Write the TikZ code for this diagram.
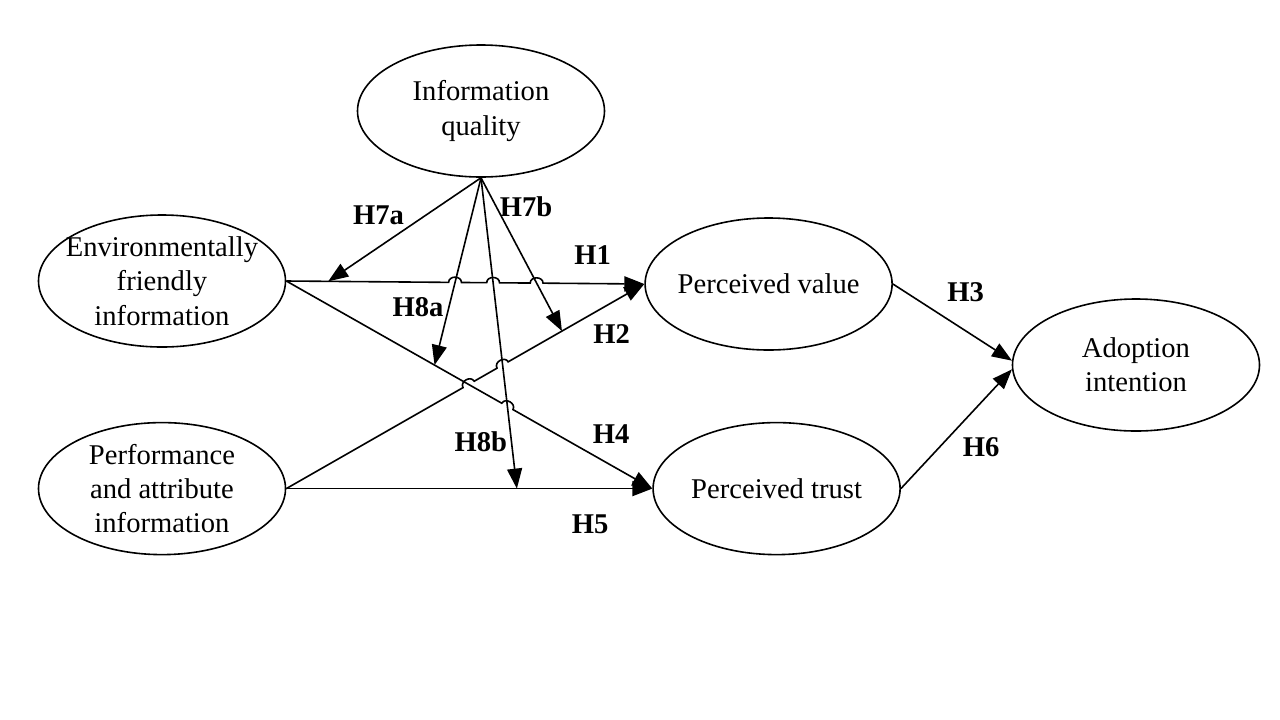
\documentclass[tikz,border=0pt]{standalone}
\usepackage{fontspec}
\setmainfont{Liberation Serif}
\usetikzlibrary{arrows.meta, positioning, calc, shapes.geometric, intersections}

\begin{document}
\begin{tikzpicture}[
  x=0.5pt, y=-0.5pt,
  every node/.style={font=\fontsize{14.3}{17.2}\selectfont},
  >={Triangle[length=10pt,width=7.5pt]},
  arrow/.style={->, line width=0.8pt},
  construct/.style={draw, ellipse, line width=0.8pt, minimum width=123.5pt, minimum height=66pt, inner sep=-12pt, align=center},
  hyp/.style={font=\fontsize{14.3}{17.2}\selectfont\bfseries},
  hop/.style={bend left=90, looseness=1.4}
]
\useasboundingbox (0,0) rectangle (1280,719);

% Constructs
\node [construct] (env) at (162,281) {Environmentally\\friendly\\information};
\node [construct, below=37pt of env] (perf) {Performance\\and attribute\\information};
\node [construct] (iq) at (481,111) {Information\\quality};
\node [construct, right=179pt of env, yshift=-1.5pt] (val) {Perceived value};
\node [construct, right=183pt of perf] (trust) {Perceived trust};
\node [construct] (adopt) at (1136,365) {Adoption\\intention};

% Where the moderating arrows land
\coordinate (e7a) at ($(env.east)!0.117!(val.west)$);
\coordinate (e7b) at ($(perf.east)!0.77!(val.west)$);
\coordinate (e8a) at ($(env.east)!0.405!(trust.west)$);
\coordinate (e8b) at ($(perf.east)!0.63!(trust.west)$);

% Crossings (for the hops)
\path [name path=h1] (env.east) -- (val.west);
\path [name path=h2] (perf.east) -- (val.west);
\path [name path=h4] (env.east) -- (trust.west);
\path [name path=m7b] (iq.south) -- (e7b);
\path [name path=m8a] (iq.south) -- (e8a);
\path [name path=m8b] (iq.south) -- (e8b);
\path [name intersections={of=h1 and m8a, by=x1}];
\path [name intersections={of=h1 and m8b, by=x2}];
\path [name intersections={of=h1 and m7b, by=x3}];
\path [name intersections={of=h2 and h4, by=x4}];
\path [name intersections={of=h2 and m8b, by=x5}];
\path [name intersections={of=h4 and m8b, by=x6}];

% Direct effects
\draw[arrow] (env.east) -- ($(x1)!3.2pt!(env.east)$) to[hop] ($(x1)!3.2pt!(val.west)$)
  -- ($(x2)!3.2pt!(env.east)$) to[hop] ($(x2)!3.2pt!(val.west)$)
  -- ($(x3)!3.2pt!(env.east)$) to[hop] ($(x3)!3.2pt!(val.west)$)
  -- node[hyp, pos=0.49, above=6pt] (l1) {H1} (val.west);
\draw[arrow] (perf.east) -- ($(x4)!3.2pt!(perf.east)$) to[hop] ($(x4)!3.2pt!(val.west)$)
  -- ($(x5)!3.2pt!(perf.east)$) to[hop] ($(x5)!3.2pt!(val.west)$)
  -- node[hyp, pos=0.76, below=7pt] (l2) {H2} (val.west);
\draw[arrow] (env.east) -- ($(x6)!3.2pt!(env.east)$) to[hop] ($(x6)!3.2pt!(trust.west)$)
  -- node[hyp, pos=0.52, above right] (l4) {H4} (trust.west);
\draw[arrow] (perf.east) -- node[hyp, pos=0.83, below=9.5pt] (l5) {H5} (trust.west);
\draw[arrow] (val.east) -- node[hyp, pos=0.61, above=11pt] (l3) {H3} (adopt.178);
\draw[arrow] (trust.east) -- node[hyp, pos=0.49, below right] (l6) {H6} (adopt.182);

% Moderating effects
\draw[arrow] (iq.south) -- node[hyp, pos=0.67, above=7.5pt] (l7a) {H7a} (e7a);
\draw[arrow] (iq.south) -- node[hyp, pos=0.19, right=-2pt] (l7b) {H7b} (e7b);
\draw[arrow] (iq.south) -- node[hyp, pos=0.69, left=-1pt] (l8a) {H8a} (e8a);
\draw[arrow] (iq.south) -- node[hyp, pos=0.85, left=-1.5pt] (l8b) {H8b} (e8b);
\end{tikzpicture}
\end{document}
